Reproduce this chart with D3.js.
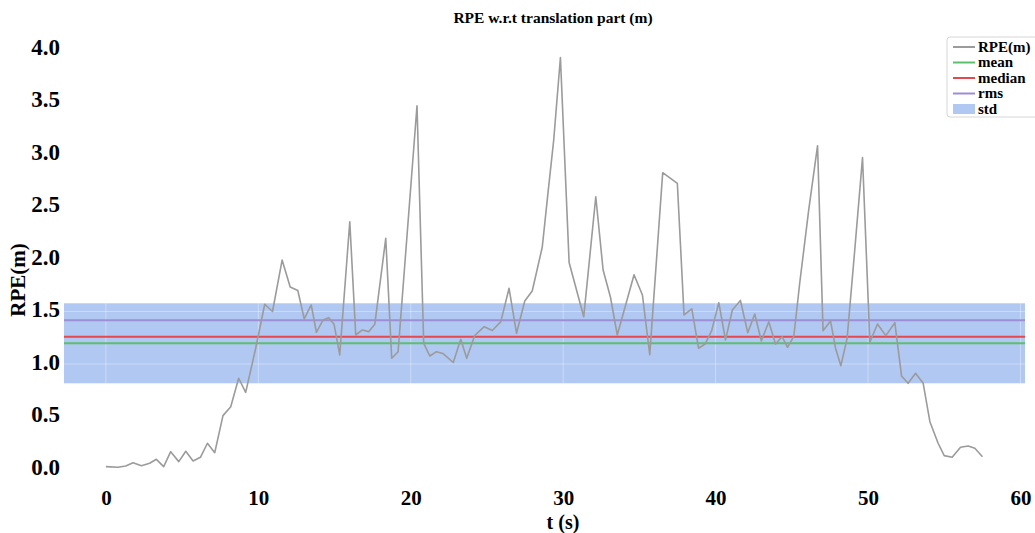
<!DOCTYPE html>
<html>
<head>
<meta charset="utf-8">
<script src="https://cdn.jsdelivr.net/npm/d3@7"></script>
<style>
  html, body { margin: 0; padding: 0; background: #fff; }
  svg { display: block; }
  text { font-family: "Liberation Serif", "Times New Roman", serif; font-weight: bold; fill: #000; }
</style>
</head>
<body>
<svg id="chart" width="1035" height="533"></svg>
<script>
// ---- data ----
const timeS = [0.0,0.79,1.30,1.78,2.33,2.87,3.31,3.79,4.25,4.78,5.24,5.72,6.20,6.66,7.14,7.68,8.19,8.71,9.17,9.83,
  10.42,10.93,11.56,12.09,12.59,13.01,13.47,13.81,14.25,14.62,14.97,15.34,16.00,16.39,16.83,17.24,17.64,18.36,18.75,19.17,
  20.41,20.85,21.25,21.69,22.10,22.79,23.28,23.67,24.20,24.82,25.35,25.91,26.45,26.94,27.48,27.97,28.63,28.99,29.38,29.82,
  30.39,31.35,32.14,32.62,33.10,33.55,34.65,35.20,35.68,36.53,37.49,37.93,38.44,38.88,39.31,39.75,40.21,40.65,41.10,41.63,
  42.11,42.57,43.00,43.49,43.93,44.36,44.72,45.13,45.52,46.11,46.69,47.05,47.54,47.87,48.22,48.63,49.13,49.64,50.12,50.62,
  51.17,51.76,52.20,52.63,53.12,53.62,54.06,54.60,55.00,55.52,56.07,56.57,57.01,57.51];
const rpeValues = [0.022,0.016,0.029,0.060,0.031,0.054,0.092,0.022,0.165,0.070,0.169,0.076,0.111,0.245,0.155,0.508,0.593,0.864,0.730,1.152,
  1.569,1.500,1.990,1.733,1.700,1.429,1.562,1.302,1.419,1.441,1.378,1.086,2.355,1.276,1.324,1.308,1.378,2.197,1.054,1.117,
  3.460,1.197,1.076,1.117,1.100,1.014,1.236,1.054,1.271,1.355,1.319,1.403,1.721,1.292,1.600,1.695,2.114,2.610,3.133,3.919,
  1.967,1.450,2.593,1.895,1.638,1.276,1.850,1.657,1.089,2.822,2.721,1.467,1.524,1.150,1.190,1.321,1.584,1.229,1.514,1.605,
  1.298,1.476,1.219,1.403,1.190,1.260,1.159,1.262,1.771,2.467,3.079,1.317,1.410,1.150,0.984,1.245,2.086,2.965,1.207,1.381,
  1.270,1.393,0.886,0.816,0.911,0.816,0.450,0.245,0.127,0.111,0.207,0.219,0.197,0.117];
const statMean = 1.197;
const statMedian = 1.260;
const statRms = 1.416;
const statStd = 0.381;
const xTicks = [0, 10, 20, 30, 40, 50, 60];
const yTicks = [0.0, 0.5, 1.0, 1.5, 2.0, 2.5, 3.0, 3.5, 4.0];
const legendLabels = ["RPE(m)", "mean", "median", "rms", "std"];
const titleText = "RPE w.r.t translation part (m)";
const xLabel = "t (s)";
const yLabel = "RPE(m)";

// ---- layout / style ----
const colors = { rpe: "#9b9b9b", mean: "#5cbf6e", median: "#e5484f", rms: "#9d8fd6", std: "#b1c8f2" };
const plot = { left: 64, right: 1025, top: 36.4, bottom: 488.5 };

const svg = d3.select("#chart");
const x = d3.scaleLinear().domain([-2.75, 60.3]).range([plot.left, plot.right]);
const y = d3.scaleLinear().domain([-0.186, 4.12]).range([plot.bottom, plot.top]);

// std band
svg.append("rect")
  .attr("x", plot.left).attr("width", plot.right - plot.left)
  .attr("y", y(statMean + statStd)).attr("height", y(statMean - statStd) - y(statMean + statStd))
  .attr("fill", colors.std);

// faint white grid (visible over the band)
const grid = svg.append("g").attr("stroke", "#fff").attr("stroke-opacity", 0.35).attr("stroke-width", 1);
grid.selectAll("line.v").data(xTicks).join("line")
  .attr("x1", d => x(d)).attr("x2", d => x(d)).attr("y1", plot.top).attr("y2", plot.bottom);
grid.selectAll("line.h").data(yTicks).join("line")
  .attr("y1", d => y(d)).attr("y2", d => y(d)).attr("x1", plot.left).attr("x2", plot.right);

// stat lines
[[statRms, colors.rms], [statMedian, colors.median], [statMean, colors.mean]].forEach(([v, c]) => {
  svg.append("line").attr("x1", plot.left).attr("x2", plot.right)
    .attr("y1", y(v)).attr("y2", y(v)).attr("stroke", c).attr("stroke-width", 2);
});

// RPE line
const pts = timeS.map((t, i) => [t, rpeValues[i]]);
svg.append("path").datum(pts)
  .attr("fill", "none").attr("stroke", colors.rpe).attr("stroke-width", 1.6).attr("stroke-linejoin", "round")
  .attr("d", d3.line().x(d => x(d[0])).y(d => y(d[1])));

// axes (labels only, no ticks/spines)
const xAxis = d3.axisBottom(x).tickValues(xTicks).tickFormat(d3.format("d")).tickSize(0).tickPadding(0);
const gx = svg.append("g").attr("transform", `translate(0,${plot.bottom})`).call(xAxis);
gx.select(".domain").remove();
gx.selectAll("text").attr("dy", null).attr("y", 16).attr("font-size", 21)
  .style("font-family", "Liberation Serif").style("font-weight", "bold");

const yAxis = d3.axisLeft(y).tickValues(yTicks).tickFormat(d3.format(".1f")).tickSize(0).tickPadding(0);
const gy = svg.append("g").attr("transform", `translate(60,-1.5)`).call(yAxis);
gy.select(".domain").remove();
gy.selectAll("text").attr("x", 0).attr("dy", "0.3em").attr("font-size", 23)
  .style("font-family", "Liberation Serif").style("font-weight", "bold");

// titles
svg.append("text").attr("x", 553).attr("y", 23).attr("text-anchor", "middle").attr("font-size", 15.5).text(titleText);
svg.append("text").attr("x", 563).attr("y", 528.5).attr("text-anchor", "middle").attr("font-size", 20).text(xLabel);
svg.append("text").attr("transform", "translate(25,280) rotate(-90)").attr("text-anchor", "middle")
  .attr("font-size", 21).text(yLabel);

// legend
const lg = svg.append("g").attr("transform", "translate(947,37)");
lg.append("rect").attr("x", 0).attr("y", 0).attr("width", 95).attr("height", 80).attr("rx", 3)
  .attr("fill", "#fff").attr("fill-opacity", 0.8).attr("stroke", "#d6d6d6");
const legendColors = [colors.rpe, colors.mean, colors.median, colors.rms, colors.std];
legendLabels.forEach((lab, i) => {
  const cy = 10 + i * 15.5;
  if (i < 4) {
    lg.append("line").attr("x1", 6).attr("x2", 28).attr("y1", cy).attr("y2", cy)
      .attr("stroke", legendColors[i]).attr("stroke-width", 2);
  } else {
    lg.append("rect").attr("x", 6).attr("y", cy - 5).attr("width", 22).attr("height", 10).attr("fill", legendColors[i]);
  }
  lg.append("text").attr("x", 31).attr("y", cy).attr("dy", "0.32em").attr("font-size", 15).text(lab);
});
</script>
</body>
</html>
